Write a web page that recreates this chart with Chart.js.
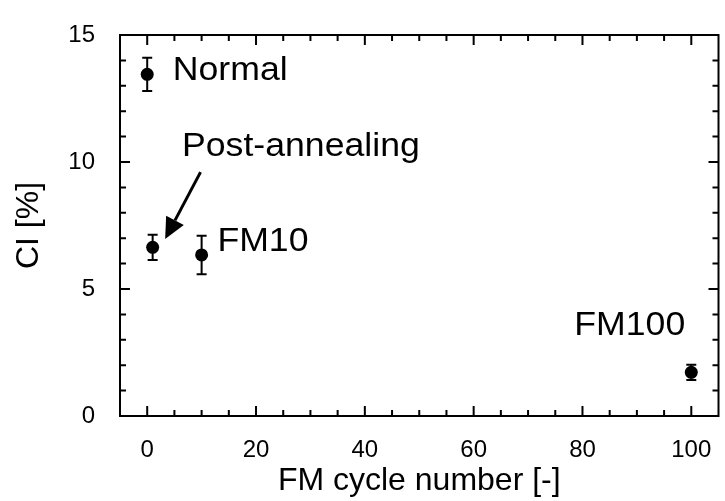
<!DOCTYPE html>
<html>
<head>
<meta charset="utf-8">
<script src="https://cdn.jsdelivr.net/npm/chart.js@4"></script>
<style>
html, body { margin: 0; padding: 0; background: #fff; }
#wrap { width: 725px; height: 501px; }
</style>
</head>
<body>
<div id="wrap"><canvas id="ciChart" width="725" height="501"></canvas></div>
<script>
// values
var cycles = [0, 1, 10, 100];
var ciValues = [13.45, 6.64, 6.34, 1.72];
var ciErrors = [0.65, 0.5, 0.76, 0.3];
var pointNames = ['Normal', 'Post-annealing', 'FM10', 'FM100'];
var xTickLabels = [0, 20, 40, 60, 80, 100];
var yTickLabels = [0, 5, 10, 15];

// where each name sits (data units, left edge / middle)
var nameSpots = [[4.7, 13.6], [6.4, 10.6], [12.9, 6.85], [78.5, 3.54]];
// arrow from the "Post-annealing" text to its point (data units)
var arrowFrom = [9.8, 9.6];
var arrowTo = [3.3, 6.97];

var FONT = '"Liberation Sans", Arial, Helvetica, sans-serif';

function noPad(scale) {
    scale.paddingLeft = 0;
    scale.paddingRight = 0;
    scale.paddingTop = 0;
    scale.paddingBottom = 0;
}

var boxPlugin = {
    id: 'boxPlugin',
    beforeDatasetsDraw: function(chart) {
        // error bars
        var ctx = chart.ctx;
        var xs = chart.scales.x, ys = chart.scales.y;
        ctx.save();
        ctx.strokeStyle = '#000';
        ctx.lineWidth = 2;
        for (var i = 0; i < cycles.length; i++) {
            var px = xs.getPixelForValue(cycles[i]);
            var top = ys.getPixelForValue(ciValues[i] + ciErrors[i]);
            var bot = ys.getPixelForValue(ciValues[i] - ciErrors[i]);
            ctx.beginPath();
            ctx.moveTo(px, top); ctx.lineTo(px, bot);
            ctx.moveTo(px - 5, top); ctx.lineTo(px + 5, top);
            ctx.moveTo(px - 5, bot); ctx.lineTo(px + 5, bot);
            ctx.stroke();
        }
        ctx.restore();
    },
    afterDraw: function(chart) {
        var ctx = chart.ctx;
        var a = chart.chartArea;
        var xs = chart.scales.x, ys = chart.scales.y;
        ctx.save();
        ctx.strokeStyle = '#000';
        ctx.fillStyle = '#000';

        // frame
        ctx.lineWidth = 2;
        ctx.strokeRect(a.left, a.top, a.right - a.left, a.bottom - a.top);

        // inward ticks, x every 5, y every 1
        ctx.beginPath();
        for (var v = 0; v <= 100; v += 5) {
            var px = xs.getPixelForValue(v);
            var len = (v % 20 === 0) ? 10 : 6;
            ctx.moveTo(px, a.bottom); ctx.lineTo(px, a.bottom - len);
            ctx.moveTo(px, a.top); ctx.lineTo(px, a.top + len);
        }
        for (var w = 0; w <= 15; w += 1) {
            var py = ys.getPixelForValue(w);
            var l2 = (w % 5 === 0) ? 10 : 6;
            ctx.moveTo(a.left, py); ctx.lineTo(a.left + l2, py);
            ctx.moveTo(a.right, py); ctx.lineTo(a.right - l2, py);
        }
        ctx.stroke();

        // arrow
        var x1 = xs.getPixelForValue(arrowFrom[0]), y1 = ys.getPixelForValue(arrowFrom[1]);
        var x2 = xs.getPixelForValue(arrowTo[0]), y2 = ys.getPixelForValue(arrowTo[1]);
        var ang = Math.atan2(y2 - y1, x2 - x1);
        var headLen = 21, headHalf = 10;
        var bx = x2 - headLen * Math.cos(ang), by = y2 - headLen * Math.sin(ang);
        ctx.lineWidth = 3;
        ctx.beginPath();
        ctx.moveTo(x1, y1); ctx.lineTo(bx, by);
        ctx.stroke();
        ctx.beginPath();
        ctx.moveTo(x2, y2);
        ctx.lineTo(bx + headHalf * Math.sin(ang), by - headHalf * Math.cos(ang));
        ctx.lineTo(bx - headHalf * Math.sin(ang), by + headHalf * Math.cos(ang));
        ctx.closePath();
        ctx.fill();

        // point names (the scan is a bit wider than the font)
        ctx.font = '33px ' + FONT;
        ctx.textAlign = 'left';
        ctx.textBaseline = 'middle';
        for (var i = 0; i < pointNames.length; i++) {
            ctx.save();
            ctx.translate(xs.getPixelForValue(nameSpots[i][0]), ys.getPixelForValue(nameSpots[i][1]));
            ctx.scale(1.08, 1);
            ctx.fillText(pointNames[i], 0, 0);
            ctx.restore();
        }
        ctx.restore();
    }
};

var ctx = document.getElementById('ciChart').getContext('2d');
var ciChart = new Chart(ctx, {
    type: 'scatter',
    data: {
        datasets: [{
            label: 'CI',
            data: cycles.map(function(c, i) { return { x: c, y: ciValues[i] }; }),
            pointRadius: 6.5,
            pointHoverRadius: 6.5,
            pointBackgroundColor: '#000',
            pointBorderColor: '#000',
            pointBorderWidth: 0,
            showLine: false
        }]
    },
    options: {
        responsive: false,
        animation: false,
        devicePixelRatio: 1,
        layout: { padding: { top: 35, right: 2, left: 0, bottom: 0 } },
        plugins: {
            legend: { display: false },
            tooltip: { enabled: false }
        },
        scales: {
            x: {
                type: 'linear',
                min: -5,
                max: 105,
                afterBuildTicks: function(scale) {
                    scale.ticks = xTickLabels.map(function(v) { return { value: v }; });
                },
                afterFit: function(scale) { scale.height = 85; noPad(scale); },
                grid: { display: false, drawTicks: false },
                border: { display: false },
                ticks: {
                    autoSkip: false,
                    maxRotation: 0,
                    padding: 20,
                    color: '#000',
                    font: { family: FONT, size: 24 }
                },
                title: {
                    display: true,
                    text: 'FM cycle number [-]',
                    color: '#000',
                    font: { family: FONT, size: 32 },
                    padding: { top: 0, bottom: 1 }
                }
            },
            y: {
                type: 'linear',
                min: 0,
                max: 15,
                afterBuildTicks: function(scale) {
                    scale.ticks = yTickLabels.map(function(v) { return { value: v }; });
                },
                afterFit: function(scale) { scale.width = 120; noPad(scale); },
                grid: { display: false, drawTicks: false },
                border: { display: false },
                ticks: {
                    padding: 25,
                    color: '#000',
                    font: { family: FONT, size: 24 }
                },
                title: {
                    display: true,
                    text: 'CI [%]',
                    color: '#000',
                    font: { family: FONT, size: 32 },
                    padding: { top: 10, bottom: 0 }
                }
            }
        }
    },
    plugins: [boxPlugin]
});
</script>
</body>
</html>
